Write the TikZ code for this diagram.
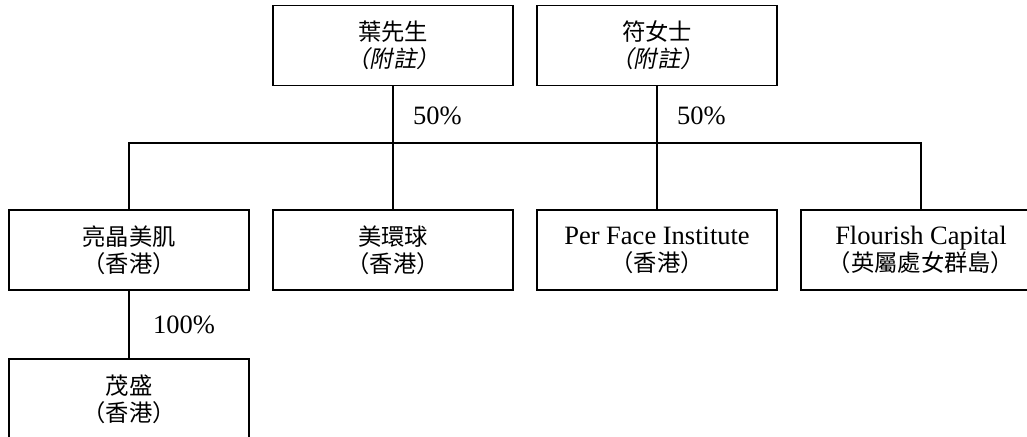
\documentclass[tikz,border=0pt]{standalone}
\usepackage{fontspec}
\setmainfont{Liberation Serif}
\newfontfamily\cjk{Noto Sans CJK TC}[Scale=0.88]
\newfontfamily\cjkit{Noto Sans CJK TC}[Scale=0.88,FakeSlant=0.2]
\begin{document}
\begin{tikzpicture}[x=1pt,y=-1pt,
  entity/.style={draw, line width=1.1pt, minimum width=240pt, minimum height=80pt,
    inner sep=0pt, align=center, font=\fontsize{26.5}{27}\selectfont},
  link/.style={line width=1.1pt},
  pct/.style={anchor=west, inner sep=0pt, font=\fontsize{26.5}{27}\selectfont}]
\useasboundingbox (0,0) rectangle (1027,436);
\clip (0,0) rectangle (1027,436);
\fill[white] (0,0) rectangle (1027,436);
\node[entity] (ye) at (393,45.5) {\cjk 葉先生\\\cjkit （附註）};
\node[entity] (fu) at (657,45.5) {\cjk 符女士\\\cjkit （附註）};
\node[entity] (a) at (129,250) {\cjk 亮晶美肌\\\cjk （香港）};
\node[entity] (b) at (393,250) {\cjk 美環球\\\cjk （香港）};
\node[entity] (c) at (657,250) {Per Face Institute\\\cjk （香港）};
\node[entity] (d) at (921,250) {Flourish Capital\\\cjk （英屬處女群島）};
\node[entity] (e) at (129,399) {\cjk 茂盛\\\cjk （香港）};
\coordinate (bus) at (0,143);
\draw[link] (ye.south) -- (b.north);
\draw[link] (fu.south) -- (c.north);
\draw[link] (a.north) -- (a.north |- bus) -- (d.north |- bus) -- (d.north);
\draw[link] (a.south) -- (e.north);
\node[pct] (p1) at (413,116) {50\%};
\node[pct] (p2) at (677,116) {50\%};
\node[pct] (p3) at (153,325) {100\%};
\end{tikzpicture}
\end{document}
